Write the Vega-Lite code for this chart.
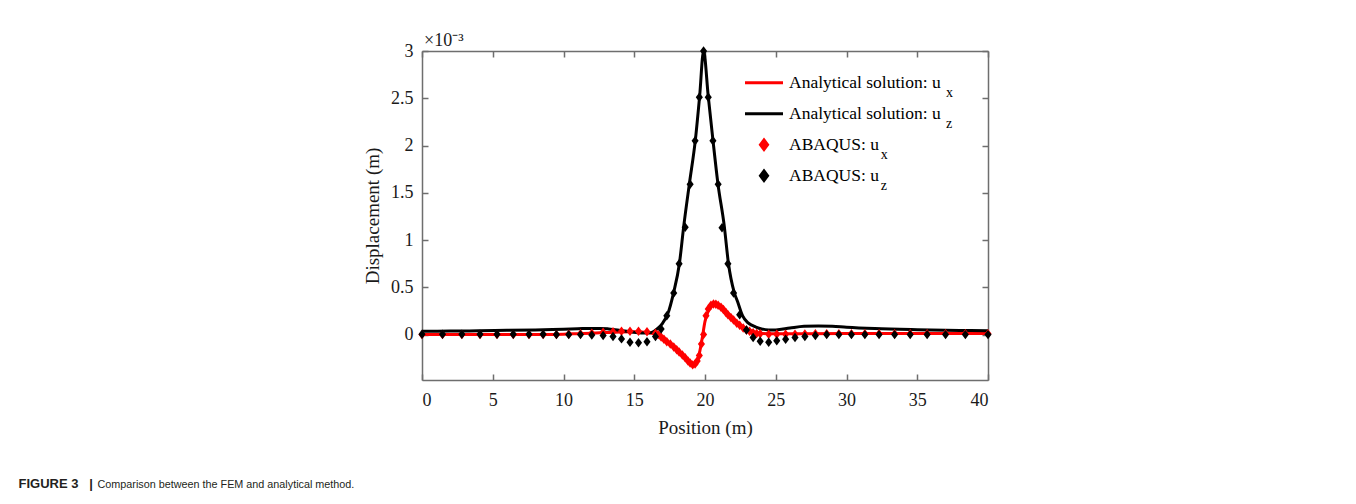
{
  "$schema": "https://vega.github.io/schema/vega-lite/v6.json",
  "width": 566,
  "height": 329,
  "autosize": {"type": "none"},
  "padding": {"left": 422, "top": 51, "right": 368, "bottom": 124},
  "background": "white",
  "config": {"view": {"stroke": null}, "font": "Liberation Serif"},
  "title": {
    "text": "×10⁻³",
    "orient": "top",
    "anchor": "start",
    "frame": "group",
    "dx": 2,
    "dy": 28,
    "offset": 6,
    "baseline": "alphabetic",
    "font": "Liberation Serif",
    "fontSize": 18,
    "fontWeight": "normal",
    "color": "#1a1a1a"
  },
  "datasets": {
    "analytical": [
      {"position": 0, "disp": 0.0, "series": "Analytical solution: ux"},
      {"position": 4, "disp": 0.0, "series": "Analytical solution: ux"},
      {"position": 8, "disp": 0.002, "series": "Analytical solution: ux"},
      {"position": 10, "disp": 0.005, "series": "Analytical solution: ux"},
      {"position": 11, "disp": 0.01, "series": "Analytical solution: ux"},
      {"position": 12, "disp": 0.015, "series": "Analytical solution: ux"},
      {"position": 13, "disp": 0.022, "series": "Analytical solution: ux"},
      {"position": 14, "disp": 0.028, "series": "Analytical solution: ux"},
      {"position": 15, "disp": 0.03, "series": "Analytical solution: ux"},
      {"position": 15.5, "disp": 0.028, "series": "Analytical solution: ux"},
      {"position": 16, "disp": 0.02, "series": "Analytical solution: ux"},
      {"position": 16.5, "disp": 0.005, "series": "Analytical solution: ux"},
      {"position": 17, "disp": -0.04, "series": "Analytical solution: ux"},
      {"position": 17.5, "disp": -0.095, "series": "Analytical solution: ux"},
      {"position": 18, "disp": -0.16, "series": "Analytical solution: ux"},
      {"position": 18.5, "disp": -0.23, "series": "Analytical solution: ux"},
      {"position": 18.8, "disp": -0.275, "series": "Analytical solution: ux"},
      {"position": 19.0, "disp": -0.305, "series": "Analytical solution: ux"},
      {"position": 19.2, "disp": -0.32, "series": "Analytical solution: ux"},
      {"position": 19.4, "disp": -0.3, "series": "Analytical solution: ux"},
      {"position": 19.6, "disp": -0.2, "series": "Analytical solution: ux"},
      {"position": 19.8, "disp": -0.04, "series": "Analytical solution: ux"},
      {"position": 20.0, "disp": 0.14, "series": "Analytical solution: ux"},
      {"position": 20.2, "disp": 0.24, "series": "Analytical solution: ux"},
      {"position": 20.4, "disp": 0.3, "series": "Analytical solution: ux"},
      {"position": 20.6, "disp": 0.32, "series": "Analytical solution: ux"},
      {"position": 20.8, "disp": 0.322, "series": "Analytical solution: ux"},
      {"position": 21.0, "disp": 0.305, "series": "Analytical solution: ux"},
      {"position": 21.3, "disp": 0.27, "series": "Analytical solution: ux"},
      {"position": 21.6, "disp": 0.22, "series": "Analytical solution: ux"},
      {"position": 22.0, "disp": 0.16, "series": "Analytical solution: ux"},
      {"position": 22.5, "disp": 0.1, "series": "Analytical solution: ux"},
      {"position": 23.0, "disp": 0.055, "series": "Analytical solution: ux"},
      {"position": 23.5, "disp": 0.025, "series": "Analytical solution: ux"},
      {"position": 24.0, "disp": 0.012, "series": "Analytical solution: ux"},
      {"position": 25, "disp": 0.008, "series": "Analytical solution: ux"},
      {"position": 27, "disp": 0.01, "series": "Analytical solution: ux"},
      {"position": 30, "disp": 0.012, "series": "Analytical solution: ux"},
      {"position": 35, "disp": 0.013, "series": "Analytical solution: ux"},
      {"position": 40, "disp": 0.013, "series": "Analytical solution: ux"},
      {"position": 0, "disp": 0.035, "series": "Analytical solution: uz"},
      {"position": 2, "disp": 0.037, "series": "Analytical solution: uz"},
      {"position": 4, "disp": 0.04, "series": "Analytical solution: uz"},
      {"position": 6, "disp": 0.045, "series": "Analytical solution: uz"},
      {"position": 8, "disp": 0.05, "series": "Analytical solution: uz"},
      {"position": 10, "disp": 0.058, "series": "Analytical solution: uz"},
      {"position": 11, "disp": 0.062, "series": "Analytical solution: uz"},
      {"position": 12, "disp": 0.066, "series": "Analytical solution: uz"},
      {"position": 12.6, "disp": 0.066, "series": "Analytical solution: uz"},
      {"position": 13.2, "disp": 0.06, "series": "Analytical solution: uz"},
      {"position": 14, "disp": 0.045, "series": "Analytical solution: uz"},
      {"position": 14.8, "disp": 0.028, "series": "Analytical solution: uz"},
      {"position": 15.5, "disp": 0.018, "series": "Analytical solution: uz"},
      {"position": 16.1, "disp": 0.02, "series": "Analytical solution: uz"},
      {"position": 16.4, "disp": 0.035, "series": "Analytical solution: uz"},
      {"position": 16.66, "disp": 0.065, "series": "Analytical solution: uz"},
      {"position": 17.0, "disp": 0.12, "series": "Analytical solution: uz"},
      {"position": 17.37, "disp": 0.22, "series": "Analytical solution: uz"},
      {"position": 17.79, "disp": 0.45, "series": "Analytical solution: uz"},
      {"position": 18.19, "disp": 0.75, "series": "Analytical solution: uz"},
      {"position": 18.5, "disp": 1.15, "series": "Analytical solution: uz"},
      {"position": 18.9, "disp": 1.6, "series": "Analytical solution: uz"},
      {"position": 19.32, "disp": 2.06, "series": "Analytical solution: uz"},
      {"position": 19.62, "disp": 2.52, "series": "Analytical solution: uz"},
      {"position": 19.9, "disp": 3.0, "series": "Analytical solution: uz"},
      {"position": 20.23, "disp": 2.52, "series": "Analytical solution: uz"},
      {"position": 20.56, "disp": 2.06, "series": "Analytical solution: uz"},
      {"position": 20.91, "disp": 1.6, "series": "Analytical solution: uz"},
      {"position": 21.36, "disp": 1.15, "series": "Analytical solution: uz"},
      {"position": 21.66, "disp": 0.75, "series": "Analytical solution: uz"},
      {"position": 22.06, "disp": 0.45, "series": "Analytical solution: uz"},
      {"position": 22.3, "disp": 0.35, "series": "Analytical solution: uz"},
      {"position": 22.65, "disp": 0.2, "series": "Analytical solution: uz"},
      {"position": 23.0, "disp": 0.13, "series": "Analytical solution: uz"},
      {"position": 23.3, "disp": 0.1, "series": "Analytical solution: uz"},
      {"position": 23.6, "disp": 0.08, "series": "Analytical solution: uz"},
      {"position": 24.0, "disp": 0.06, "series": "Analytical solution: uz"},
      {"position": 24.5, "disp": 0.05, "series": "Analytical solution: uz"},
      {"position": 25.0, "disp": 0.05, "series": "Analytical solution: uz"},
      {"position": 26, "disp": 0.07, "series": "Analytical solution: uz"},
      {"position": 27, "disp": 0.088, "series": "Analytical solution: uz"},
      {"position": 28, "disp": 0.092, "series": "Analytical solution: uz"},
      {"position": 29, "disp": 0.088, "series": "Analytical solution: uz"},
      {"position": 30, "disp": 0.078, "series": "Analytical solution: uz"},
      {"position": 32, "disp": 0.064, "series": "Analytical solution: uz"},
      {"position": 35, "disp": 0.052, "series": "Analytical solution: uz"},
      {"position": 38, "disp": 0.044, "series": "Analytical solution: uz"},
      {"position": 40, "disp": 0.04, "series": "Analytical solution: uz"}
    ],
    "abaqus": [
      {"position": 0, "disp": 0.0, "series": "ABAQUS: ux"},
      {"position": 1.45, "disp": 0.0, "series": "ABAQUS: ux"},
      {"position": 2.82, "disp": 0.0, "series": "ABAQUS: ux"},
      {"position": 4.1, "disp": 0.0, "series": "ABAQUS: ux"},
      {"position": 5.3, "disp": 0.0, "series": "ABAQUS: ux"},
      {"position": 6.45, "disp": 0.0, "series": "ABAQUS: ux"},
      {"position": 7.56, "disp": 0.0, "series": "ABAQUS: ux"},
      {"position": 8.56, "disp": 0.0, "series": "ABAQUS: ux"},
      {"position": 9.5, "disp": 0.0, "series": "ABAQUS: ux"},
      {"position": 10.37, "disp": 0.005, "series": "ABAQUS: ux"},
      {"position": 11.2, "disp": 0.01, "series": "ABAQUS: ux"},
      {"position": 12.0, "disp": 0.015, "series": "ABAQUS: ux"},
      {"position": 12.8, "disp": 0.025, "series": "ABAQUS: ux"},
      {"position": 13.5, "disp": 0.03, "series": "ABAQUS: ux"},
      {"position": 14.1, "disp": 0.035, "series": "ABAQUS: ux"},
      {"position": 14.7, "disp": 0.035, "series": "ABAQUS: ux"},
      {"position": 15.3, "disp": 0.035, "series": "ABAQUS: ux"},
      {"position": 15.9, "disp": 0.03, "series": "ABAQUS: ux"},
      {"position": 16.5, "disp": 0.015, "series": "ABAQUS: ux"},
      {"position": 16.7, "disp": 0.0, "series": "ABAQUS: ux"},
      {"position": 16.9, "disp": -0.025, "series": "ABAQUS: ux"},
      {"position": 17.1, "disp": -0.05, "series": "ABAQUS: ux"},
      {"position": 17.3, "disp": -0.075, "series": "ABAQUS: ux"},
      {"position": 17.55, "disp": -0.1, "series": "ABAQUS: ux"},
      {"position": 17.79, "disp": -0.13, "series": "ABAQUS: ux"},
      {"position": 18.0, "disp": -0.16, "series": "ABAQUS: ux"},
      {"position": 18.17, "disp": -0.185, "series": "ABAQUS: ux"},
      {"position": 18.4, "disp": -0.215, "series": "ABAQUS: ux"},
      {"position": 18.6, "disp": -0.245, "series": "ABAQUS: ux"},
      {"position": 18.8, "disp": -0.28, "series": "ABAQUS: ux"},
      {"position": 18.95, "disp": -0.3, "series": "ABAQUS: ux"},
      {"position": 19.13, "disp": -0.32, "series": "ABAQUS: ux"},
      {"position": 19.3, "disp": -0.31, "series": "ABAQUS: ux"},
      {"position": 19.45, "disp": -0.28, "series": "ABAQUS: ux"},
      {"position": 19.6, "disp": -0.22, "series": "ABAQUS: ux"},
      {"position": 19.75, "disp": -0.1, "series": "ABAQUS: ux"},
      {"position": 19.9, "disp": 0.0, "series": "ABAQUS: ux"},
      {"position": 20.07, "disp": 0.2, "series": "ABAQUS: ux"},
      {"position": 20.23, "disp": 0.27, "series": "ABAQUS: ux"},
      {"position": 20.42, "disp": 0.31, "series": "ABAQUS: ux"},
      {"position": 20.6, "disp": 0.325, "series": "ABAQUS: ux"},
      {"position": 20.77, "disp": 0.32, "series": "ABAQUS: ux"},
      {"position": 20.93, "disp": 0.31, "series": "ABAQUS: ux"},
      {"position": 21.13, "disp": 0.29, "series": "ABAQUS: ux"},
      {"position": 21.3, "disp": 0.265, "series": "ABAQUS: ux"},
      {"position": 21.48, "disp": 0.235, "series": "ABAQUS: ux"},
      {"position": 21.62, "disp": 0.21, "series": "ABAQUS: ux"},
      {"position": 21.83, "disp": 0.18, "series": "ABAQUS: ux"},
      {"position": 22.02, "disp": 0.155, "series": "ABAQUS: ux"},
      {"position": 22.25, "disp": 0.12, "series": "ABAQUS: ux"},
      {"position": 22.45, "disp": 0.1, "series": "ABAQUS: ux"},
      {"position": 22.7, "disp": 0.07, "series": "ABAQUS: ux"},
      {"position": 22.93, "disp": 0.05, "series": "ABAQUS: ux"},
      {"position": 23.15, "disp": 0.035, "series": "ABAQUS: ux"},
      {"position": 23.4, "disp": 0.02, "series": "ABAQUS: ux"},
      {"position": 23.65, "disp": 0.012, "series": "ABAQUS: ux"},
      {"position": 23.9, "disp": 0.008, "series": "ABAQUS: ux"},
      {"position": 24.5, "disp": 0.005, "series": "ABAQUS: ux"},
      {"position": 25.07, "disp": 0.005, "series": "ABAQUS: ux"},
      {"position": 25.7, "disp": 0.005, "series": "ABAQUS: ux"},
      {"position": 26.36, "disp": 0.005, "series": "ABAQUS: ux"},
      {"position": 27.06, "disp": 0.007, "series": "ABAQUS: ux"},
      {"position": 27.8, "disp": 0.008, "series": "ABAQUS: ux"},
      {"position": 28.6, "disp": 0.01, "series": "ABAQUS: ux"},
      {"position": 29.46, "disp": 0.01, "series": "ABAQUS: ux"},
      {"position": 30.35, "disp": 0.01, "series": "ABAQUS: ux"},
      {"position": 31.3, "disp": 0.01, "series": "ABAQUS: ux"},
      {"position": 32.3, "disp": 0.01, "series": "ABAQUS: ux"},
      {"position": 33.4, "disp": 0.01, "series": "ABAQUS: ux"},
      {"position": 34.5, "disp": 0.01, "series": "ABAQUS: ux"},
      {"position": 35.7, "disp": 0.01, "series": "ABAQUS: ux"},
      {"position": 37.0, "disp": 0.01, "series": "ABAQUS: ux"},
      {"position": 38.4, "disp": 0.01, "series": "ABAQUS: ux"},
      {"position": 40, "disp": 0.01, "series": "ABAQUS: ux"},
      {"position": 0, "disp": 0.005, "series": "ABAQUS: uz"},
      {"position": 1.45, "disp": 0.005, "series": "ABAQUS: uz"},
      {"position": 2.82, "disp": 0.005, "series": "ABAQUS: uz"},
      {"position": 4.1, "disp": 0.005, "series": "ABAQUS: uz"},
      {"position": 5.3, "disp": 0.005, "series": "ABAQUS: uz"},
      {"position": 6.45, "disp": 0.005, "series": "ABAQUS: uz"},
      {"position": 7.56, "disp": 0.005, "series": "ABAQUS: uz"},
      {"position": 8.56, "disp": 0.005, "series": "ABAQUS: uz"},
      {"position": 9.5, "disp": 0.0, "series": "ABAQUS: uz"},
      {"position": 10.37, "disp": 0.0, "series": "ABAQUS: uz"},
      {"position": 11.2, "disp": 0.0, "series": "ABAQUS: uz"},
      {"position": 12.0, "disp": -0.005, "series": "ABAQUS: uz"},
      {"position": 12.8, "disp": -0.01, "series": "ABAQUS: uz"},
      {"position": 13.5, "disp": -0.02, "series": "ABAQUS: uz"},
      {"position": 14.1, "disp": -0.045, "series": "ABAQUS: uz"},
      {"position": 14.7, "disp": -0.08, "series": "ABAQUS: uz"},
      {"position": 15.3, "disp": -0.085, "series": "ABAQUS: uz"},
      {"position": 15.9, "disp": -0.075, "series": "ABAQUS: uz"},
      {"position": 16.5, "disp": -0.02, "series": "ABAQUS: uz"},
      {"position": 16.9, "disp": 0.06, "series": "ABAQUS: uz"},
      {"position": 17.3, "disp": 0.2, "series": "ABAQUS: uz"},
      {"position": 17.79, "disp": 0.44, "series": "ABAQUS: uz"},
      {"position": 18.17, "disp": 0.75, "series": "ABAQUS: uz"},
      {"position": 18.6, "disp": 1.135, "series": "ABAQUS: uz"},
      {"position": 18.95, "disp": 1.59, "series": "ABAQUS: uz"},
      {"position": 19.3, "disp": 2.05, "series": "ABAQUS: uz"},
      {"position": 19.6, "disp": 2.51, "series": "ABAQUS: uz"},
      {"position": 19.9, "disp": 3.0, "series": "ABAQUS: uz"},
      {"position": 20.23, "disp": 2.51, "series": "ABAQUS: uz"},
      {"position": 20.56, "disp": 2.05, "series": "ABAQUS: uz"},
      {"position": 20.93, "disp": 1.59, "series": "ABAQUS: uz"},
      {"position": 21.2, "disp": 1.13, "series": "ABAQUS: uz"},
      {"position": 21.62, "disp": 0.75, "series": "ABAQUS: uz"},
      {"position": 22.02, "disp": 0.44, "series": "ABAQUS: uz"},
      {"position": 22.45, "disp": 0.21, "series": "ABAQUS: uz"},
      {"position": 22.93, "disp": 0.05, "series": "ABAQUS: uz"},
      {"position": 23.4, "disp": -0.03, "series": "ABAQUS: uz"},
      {"position": 23.9, "disp": -0.07, "series": "ABAQUS: uz"},
      {"position": 24.5, "disp": -0.08, "series": "ABAQUS: uz"},
      {"position": 25.07, "disp": -0.065, "series": "ABAQUS: uz"},
      {"position": 25.7, "disp": -0.05, "series": "ABAQUS: uz"},
      {"position": 26.36, "disp": -0.03, "series": "ABAQUS: uz"},
      {"position": 27.06, "disp": -0.02, "series": "ABAQUS: uz"},
      {"position": 27.8, "disp": -0.01, "series": "ABAQUS: uz"},
      {"position": 28.6, "disp": 0.0, "series": "ABAQUS: uz"},
      {"position": 29.46, "disp": 0.0, "series": "ABAQUS: uz"},
      {"position": 30.35, "disp": 0.0, "series": "ABAQUS: uz"},
      {"position": 31.3, "disp": 0.0, "series": "ABAQUS: uz"},
      {"position": 32.3, "disp": 0.0, "series": "ABAQUS: uz"},
      {"position": 33.4, "disp": 0.0, "series": "ABAQUS: uz"},
      {"position": 34.5, "disp": 0.0, "series": "ABAQUS: uz"},
      {"position": 35.7, "disp": 0.0, "series": "ABAQUS: uz"},
      {"position": 37.0, "disp": 0.0, "series": "ABAQUS: uz"},
      {"position": 38.4, "disp": 0.0, "series": "ABAQUS: uz"},
      {"position": 40, "disp": 0.0, "series": "ABAQUS: uz"}
    ]
  },
  "layer": [
    {
      "data": {"name": "analytical"},
      "mark": {"type": "line", "interpolate": "monotone"},
      "encoding": {
        "x": {
          "field": "position", "type": "quantitative",
          "scale": {"domain": [0, 40], "nice": false},
          "axis": {
            "orient": "bottom", "values": [0, 5, 10, 15, 20, 25, 30, 35, 40],
            "title": "Position (m)", "grid": false,
            "domainColor": "#6e6e6e", "domainWidth": 1.5, "tickColor": "#6e6e6e", "tickWidth": 1.5,
            "tickSize": -6, "labelPadding": 17,
            "labelFont": "Liberation Serif", "labelFontSize": 18, "labelColor": "#1a1a1a",
            "titleFont": "Liberation Serif", "titleFontSize": 19, "titleFontWeight": "normal", "titleColor": "#1a1a1a",
            "titlePadding": 9
          }
        },
        "y": {
          "field": "disp", "type": "quantitative",
          "scale": {"domain": [-0.48, 3], "nice": false, "zero": false},
          "axis": {
            "orient": "left", "values": [0, 0.5, 1, 1.5, 2, 2.5, 3], "format": "~g",
            "title": "Displacement (m)", "grid": false,
            "domainColor": "#6e6e6e", "domainWidth": 1.5, "tickColor": "#6e6e6e", "tickWidth": 1.5,
            "tickSize": -6, "labelPadding": 15,
            "labelFont": "Liberation Serif", "labelFontSize": 18, "labelColor": "#1a1a1a",
            "titleFont": "Liberation Serif", "titleFontSize": 19, "titleFontWeight": "normal", "titleColor": "#1a1a1a",
            "titlePadding": 8
          }
        },
        "color": {
          "field": "series", "type": "nominal",
          "scale": {
            "domain": ["Analytical solution: ux", "Analytical solution: uz", "ABAQUS: ux", "ABAQUS: uz"],
            "range": ["#ff0000", "#000000", "#ff0000", "#000000"]
          },
          "legend": {
            "orient": "none", "legendX": 321.5, "legendY": 16.2,
            "title": null, "padding": 0, "rowPadding": 0, "clipHeight": 31,
            "labelOffset": 4.5, "symbolStrokeWidth": 3,
            "labelFont": "Liberation Serif", "labelFontSize": 17.5, "labelColor": "#000000",
            "labelExpr": "slice(datum.label, 0, -1)"
          }
        },
        "strokeWidth": {
          "field": "series", "type": "ordinal",
          "scale": {"type": "ordinal", "domain": ["Analytical solution: ux", "Analytical solution: uz"], "range": [3, 3]},
          "legend": {
            "orient": "none", "legendX": 510, "legendY": 26.7,
            "title": null, "padding": 0, "rowPadding": 0, "clipHeight": 31,
            "symbolSize": 0, "labelOffset": 0,
            "symbolFillColor": "transparent", "symbolStrokeColor": "transparent",
            "labelFont": "Liberation Serif", "labelFontSize": 14, "labelColor": "#000000",
            "labelExpr": "slice(datum.label, -1)"
          }
        }
      }
    },
    {
      "data": {"name": "abaqus"},
      "mark": {"type": "point", "filled": true, "opacity": 1},
      "encoding": {
        "x": {
          "field": "position", "type": "quantitative",
          "scale": {"domain": [0, 40], "nice": false},
          "axis": {
            "orient": "top", "values": [0, 5, 10, 15, 20, 25, 30, 35, 40],
            "labels": false, "grid": false,
            "domainColor": "#6e6e6e", "domainWidth": 1.5, "tickColor": "#6e6e6e", "tickWidth": 1.5,
            "tickSize": -6,
            "title": "FIGURE\u00a03\u00a0\u00a0\u00a0|", "titleX": -404, "titleY": 436,
            "titleAlign": "left", "titleBaseline": "alphabetic", "titleAngle": 0,
            "titleFont": "Liberation Sans", "titleFontSize": 13, "titleFontWeight": "bold", "titleColor": "#231f20"
          }
        },
        "y": {
          "field": "disp", "type": "quantitative",
          "scale": {"domain": [-0.48, 3], "nice": false, "zero": false},
          "axis": {
            "orient": "right", "values": [0, 0.5, 1, 1.5, 2, 2.5, 3],
            "labels": false, "grid": false,
            "domainColor": "#6e6e6e", "domainWidth": 1.5, "tickColor": "#6e6e6e", "tickWidth": 1.5,
            "tickSize": -6,
            "title": "Comparison between the FEM and analytical method.", "titleAngle": 0, "titleX": -891, "titleY": 436,
            "titleAlign": "left", "titleBaseline": "alphabetic",
            "titleFont": "Liberation Sans", "titleFontSize": 10.8, "titleFontWeight": "normal", "titleColor": "#231f20"
          }
        },
        "color": {
          "field": "series", "type": "nominal",
          "scale": {
            "domain": ["Analytical solution: ux", "Analytical solution: uz", "ABAQUS: ux", "ABAQUS: uz"],
            "range": ["#ff0000", "#000000", "#ff0000", "#000000"]
          }
        },
        "shape": {
          "field": "series", "type": "nominal",
          "scale": {
            "domain": ["Analytical solution: ux", "Analytical solution: uz", "ABAQUS: ux", "ABAQUS: uz"],
            "range": ["stroke", "stroke", "M0,-1L0.75,0L0,1L-0.75,0Z", "M0,-1L0.75,0L0,1L-0.75,0Z"]
          }
        },
        "size": {
          "field": "series", "type": "ordinal",
          "scale": {
            "type": "ordinal",
            "domain": ["Analytical solution: ux", "Analytical solution: uz", "ABAQUS: ux", "ABAQUS: uz"],
            "range": [1444, 1444, 90, 90]
          }
        },
        "opacity": {
          "field": "series", "type": "ordinal",
          "scale": {"type": "ordinal", "domain": ["ABAQUS: ux", "ABAQUS: uz"], "range": [1, 1]},
          "legend": {
            "orient": "none", "legendX": 444.7, "legendY": 88.7,
            "title": null, "padding": 0, "rowPadding": 0, "clipHeight": 31,
            "symbolSize": 0, "labelOffset": 0, "symbolStrokeWidth": 0,
            "symbolFillColor": "transparent", "symbolStrokeColor": "transparent",
            "labelFont": "Liberation Serif", "labelFontSize": 14, "labelColor": "#000000",
            "labelExpr": "slice(datum.label, -1)"
          }
        }
      }
    }
  ],
  "resolve": {"axis": {"x": "independent", "y": "independent"}}
}
